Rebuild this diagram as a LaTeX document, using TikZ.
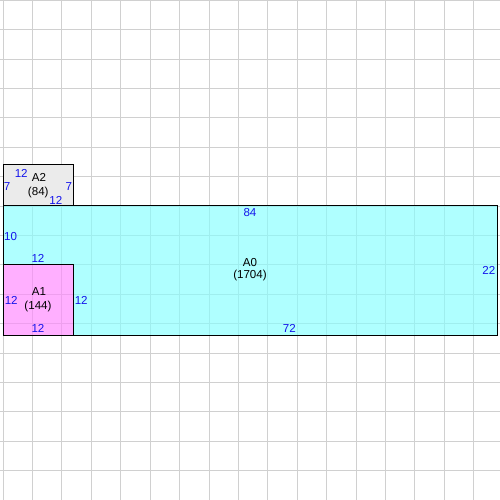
\documentclass[tikz,border=0pt]{standalone}
\usepackage{fontspec}
\setmainfont{Liberation Sans}
\usepackage{tikz}

\definecolor{gridgray}{RGB}{208,208,208}
\definecolor{aqua}{RGB}{135,255,255}
\definecolor{orchid}{RGB}{255,135,255}
\definecolor{paper}{RGB}{235,235,235}
\definecolor{dimblue}{RGB}{20,20,235}

\tikzset{
  gridline/.style={gridgray, line width=0.3pt},
  piece/.style={draw=black, line width=0.45pt},
  dimlabel/.style={dimblue, inner sep=0pt, text height=4.0pt, text depth=0pt,
    font=\fontsize{5.6pt}{6.4pt}\selectfont},
  namelabel/.style={black, inner sep=0pt, text height=4.0pt, text depth=0pt,
    font=\fontsize{5.6pt}{6.4pt}\selectfont}
}

\begin{document}
\begin{tikzpicture}[x=0.1cm, y=0.1cm]
     \useasboundingbox (-0.51,-28.02) rectangle (84.51,57.0);
     \fill[white] (-0.51,-28.02) rectangle (84.51,57.0);
     \foreach \x in {0,5,...,80}
       \draw[gridline] (\x,-28.02) -- (\x,57.0);
     \foreach \y in {-28,-23,...,57}
       \draw[gridline] (-0.51,\y) -- (84.51,\y);
     \fill[aqua, fill opacity=0.66, even odd rule]
                                      ( 0, 0) rectangle (84,22) ( 0, 0) rectangle (12,12);
     \fill[orchid, fill opacity=0.66] ( 0, 0) rectangle (12,12);
     \fill[paper]                     ( 0,22) rectangle (12,29);
     \draw[piece] ( 0, 0) rectangle (84,22);
     \draw[piece] ( 0, 0) rectangle (12,12);
     \draw[piece] ( 0,22) rectangle (12,29);
     \node[namelabel] (a2name) at ( 6.1,26.8) {A2};
     \node[namelabel] (a2area) at ( 6.0,24.5) {(84)};
     \node[dimlabel]  (a2top)  at ( 3.1,27.5) {12};
     \node[dimlabel]  (a2left) at ( 0.7,25.3) {7};
     \node[dimlabel]  (a2rght) at (11.2,25.3) {7};
     \node[dimlabel]  (a2bot)  at ( 9.0,22.9) {12};
     \node[namelabel] (a0name) at (42.0,12.45) {A0};
     \node[namelabel] (a0area) at (42.0,10.35) {(1704)};
     \node[dimlabel]  (a0top)  at (42.0,20.95) {84};
     \node[dimlabel]  (a0left) at ( 1.3,16.8) {10};
     \node[dimlabel]  (a0rght) at (82.6,10.95) {22};
     \node[dimlabel]  (a0bot)  at (48.7, 1.2) {72};
     \node[dimlabel]  (a0step) at ( 5.95,13.1) {12};
     \node[namelabel] (a1name) at ( 6.1, 7.45) {A1};
     \node[namelabel] (a1area) at ( 5.95, 5.15) {(144)};
     \node[dimlabel]  (a1left) at ( 1.4, 6.0) {12};
     \node[dimlabel]  (a1rght) at (13.3, 6.0) {12};
     \node[dimlabel]  (a1bot)  at ( 5.95, 1.1) {12};
\end{tikzpicture}
\end{document}
